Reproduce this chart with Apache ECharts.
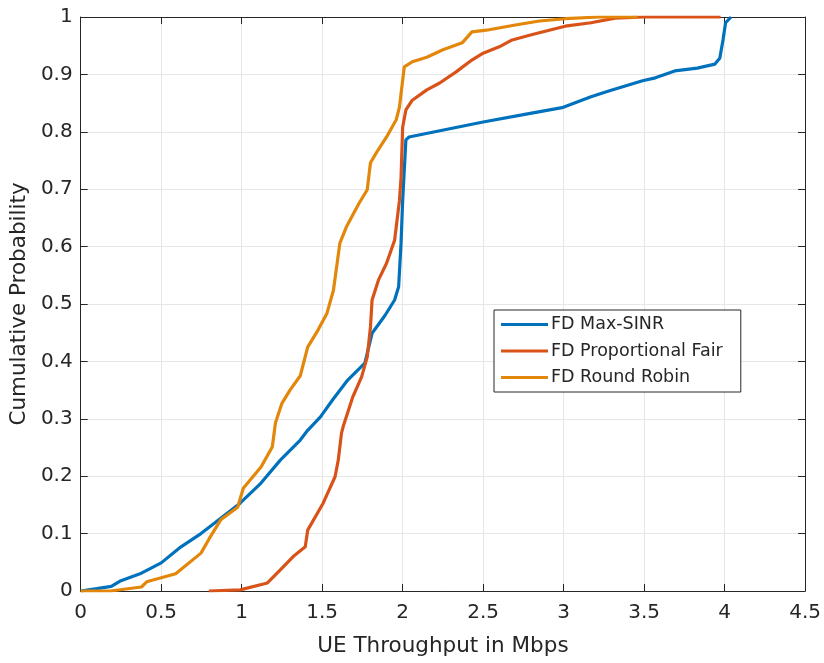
<!DOCTYPE html>
<html>
<head>
<meta charset="utf-8">
<script src="https://cdn.jsdelivr.net/npm/echarts@6/dist/echarts.min.js"></script>
<style>
html,body{margin:0;padding:0;background:#fff;}
#chart{width:824px;height:663px;}
</style>
</head>
<body>
<div id="chart"></div>
<script>
// Series names
const seriesNames = ['FD Max-SINR', 'FD Proportional Fair', 'FD Round Robin'];

// FD Max-SINR : throughput (Mbps) and cumulative probability
const maxSinrX = [0, 0.1, 0.19, 0.25, 0.377, 0.5, 0.623, 0.747, 0.83, 0.99, 1.12, 1.24, 1.364, 1.41, 1.488, 1.57, 1.66, 1.765, 1.81, 1.89, 1.95, 1.975, 1.99, 2.0, 2.02, 2.04, 2.2, 2.5, 2.75, 2.99, 3.17, 3.28, 3.49, 3.57, 3.69, 3.83, 3.94, 3.97, 3.99, 4.006, 4.04];
const maxSinrY = [0, 0.004, 0.008, 0.018, 0.031, 0.049, 0.077, 0.1, 0.118, 0.153, 0.188, 0.228, 0.263, 0.28, 0.303, 0.335, 0.368, 0.397, 0.449, 0.48, 0.507, 0.53, 0.606, 0.68, 0.786, 0.791, 0.8, 0.817, 0.83, 0.842, 0.861, 0.871, 0.889, 0.894, 0.906, 0.911, 0.918, 0.928, 0.96, 0.99, 1.0];

// FD Proportional Fair
const propFairX = [0.796, 0.99, 1.16, 1.24, 1.32, 1.395, 1.41, 1.506, 1.58, 1.6, 1.62, 1.63, 1.69, 1.745, 1.78, 1.8, 1.81, 1.85, 1.9, 1.95, 1.98, 1.99, 2.0, 2.02, 2.06, 2.15, 2.23, 2.33, 2.43, 2.5, 2.6, 2.68, 2.8, 2.91, 3.01, 3.17, 3.32, 3.5, 3.975];
const propFairY = [0, 0.002, 0.014, 0.037, 0.06, 0.077, 0.106, 0.153, 0.199, 0.228, 0.275, 0.286, 0.338, 0.373, 0.408, 0.46, 0.507, 0.542, 0.571, 0.611, 0.68, 0.72, 0.808, 0.838, 0.855, 0.873, 0.885, 0.904, 0.925, 0.937, 0.948, 0.96, 0.969, 0.977, 0.984, 0.99, 0.998, 1.0, 1.0];

// FD Round Robin
const roundRobinX = [0, 0.185, 0.377, 0.41, 0.59, 0.747, 0.8, 0.87, 0.975, 1.01, 1.12, 1.19, 1.21, 1.25, 1.3, 1.364, 1.41, 1.475, 1.53, 1.57, 1.61, 1.65, 1.73, 1.78, 1.8, 1.84, 1.9, 1.96, 1.98, 2.01, 2.06, 2.15, 2.25, 2.37, 2.43, 2.52, 2.7, 2.85, 3.01, 3.22, 3.46];
const roundRobinY = [0, 0.0, 0.007, 0.016, 0.03, 0.066, 0.092, 0.124, 0.146, 0.179, 0.216, 0.251, 0.293, 0.327, 0.35, 0.375, 0.425, 0.455, 0.484, 0.524, 0.606, 0.634, 0.676, 0.699, 0.746, 0.765, 0.791, 0.821, 0.843, 0.913, 0.922, 0.93, 0.943, 0.955, 0.974, 0.977, 0.986, 0.993, 0.997, 1.0, 1.0];

// Axis settings
const xMin = 0, xMax = 4.5, xStep = 0.5;
const yMin = 0, yMax = 1, yStep = 0.1;
const xTitle = 'UE Throughput in Mbps';
const yTitle = 'Cumulative Probability';

const colors = ['#0072BD', '#D95319', '#E3870A'];

function pairs(xs, ys) { return xs.map((x, i) => [x, ys[i]]); }
const seriesData = [pairs(maxSinrX, maxSinrY), pairs(propFairX, propFairY), pairs(roundRobinX, roundRobinY)];

const FONT = '"DejaVu Sans", "Liberation Sans", Arial, sans-serif';
const axisColor = '#262626';

const chart = echarts.init(document.getElementById('chart'), null, {renderer: 'canvas'});
chart.setOption({
  animation: false,
  backgroundColor: '#fff',
  textStyle: {fontFamily: FONT},
  grid: {left: 79, top: 17, width: 728, height: 574, containLabel: false},
  legend: {
    orient: 'vertical',
    left: 494, top: 310,
    padding: [5.5, 18, 5.5, 7],
    itemGap: 8.5,
    itemWidth: 47, itemHeight: 3,
    icon: 'rect',
    backgroundColor: '#fff',
    borderColor: axisColor, borderWidth: 1,
    textStyle: {fontSize: 17.5, color: '#262626', fontFamily: FONT, lineHeight: 18, padding: [0, 0, 0, -2]},
    data: seriesNames
  },
  xAxis: [{
    type: 'value', min: xMin, max: xMax, interval: xStep, position: 'bottom',
    name: xTitle, nameLocation: 'middle', nameGap: 44,
    nameTextStyle: {fontSize: 21.5, color: '#262626', fontFamily: FONT},
    axisLine: {show: true, lineStyle: {color: axisColor, width: 1}},
    axisTick: {show: true, inside: true, length: 7, lineStyle: {color: axisColor}},
    axisLabel: {fontSize: 20, color: '#262626', margin: 12, fontFamily: FONT},
    splitLine: {show: true, lineStyle: {color: '#E6E6E6', width: 1}}
  }, {
    type: 'value', min: xMin, max: xMax, interval: xStep, position: 'top',
    axisLine: {show: true, onZero: false, lineStyle: {color: axisColor, width: 1}},
    axisTick: {show: true, inside: true, length: 7, lineStyle: {color: axisColor}},
    axisLabel: {show: false}, splitLine: {show: false}
  }],
  yAxis: [{
    type: 'value', min: yMin, max: yMax, interval: yStep, position: 'left',
    name: yTitle, nameLocation: 'middle', nameGap: 47,
    nameTextStyle: {fontSize: 21.5, color: '#262626', fontFamily: FONT},
    axisLine: {show: true, lineStyle: {color: axisColor, width: 1}},
    axisTick: {show: true, inside: true, length: 7, lineStyle: {color: axisColor}},
    axisLabel: {fontSize: 20, color: '#262626', margin: 8, fontFamily: FONT},
    splitLine: {show: true, lineStyle: {color: '#E6E6E6', width: 1}}
  }, {
    type: 'value', min: yMin, max: yMax, interval: yStep, position: 'right',
    axisLine: {show: true, onZero: false, lineStyle: {color: axisColor, width: 1}},
    axisTick: {show: true, inside: true, length: 7, lineStyle: {color: axisColor}},
    axisLabel: {show: false}, splitLine: {show: false}
  }],
  series: seriesNames.map((name, i) => ({
    name: name,
    type: 'line',
    data: seriesData[i],
    xAxisIndex: 0, yAxisIndex: 0,
    showSymbol: false, symbol: 'none',
    lineStyle: {color: colors[i], width: 3.2},
    itemStyle: {color: colors[i]},
    clip: true
  }))
});
</script>
</body>
</html>
